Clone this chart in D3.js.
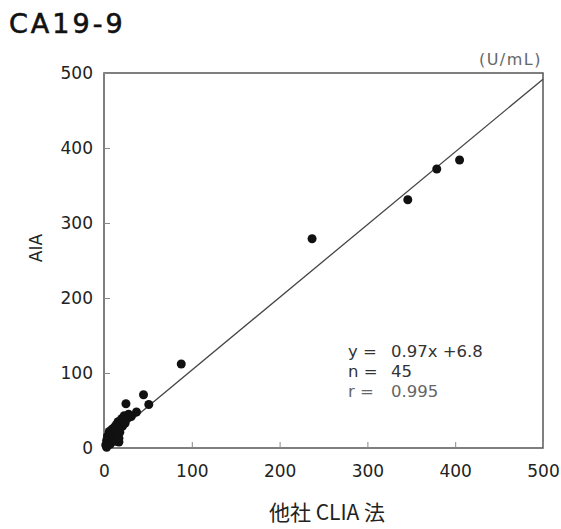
<!DOCTYPE html>
<html>
<head>
<meta charset="utf-8">
<script src="https://cdn.jsdelivr.net/npm/d3@7"></script>
<style>
  body { margin: 0; background: #fff; }
  svg text { font-family: "DejaVu Sans", sans-serif; }
</style>
</head>
<body>
<div id="chart"></div>
<script>
// comparison data: other-vendor CLIA (x) vs AIA (y), U/mL
const clia = [405, 379, 346, 237, 88,
  2, 3, 4, 5, 6, 6, 7, 8, 9, 9, 10, 11, 12, 13, 14, 14, 15, 16, 17, 18,
  18, 19, 20, 21, 22, 23, 24, 25, 26, 28, 31, 37, 45, 51, 17, 3];
const aia = [384, 372, 331, 279, 112,
  4, 10, 16, 7, 13, 22, 5, 18, 11, 25, 20, 14, 28, 9, 24, 31, 17, 35, 8, 27,
  21, 33, 39, 29, 36, 43, 33, 59, 40, 45, 42, 48, 71, 58, 13, 1];

const tickValues = [0, 100, 200, 300, 400, 500];
const slope = 0.97, intercept = 6.8;
const statLines = [
  { label: "y =", value: "0.97x +6.8", color: "#333" },
  { label: "n =", value: "45", color: "#333" },
  { label: "r =", value: "0.995", color: "#666" }
];

const W = 561, H = 529;
const svg = d3.select("#chart").append("svg")
  .attr("width", W).attr("height", H);

const x = d3.scaleLinear().domain([0, 500]).range([104, 543]);
const y = d3.scaleLinear().domain([0, 500]).range([448, 73]);

// title
svg.append("text")
  .attr("x", 9).attr("y", 33)
  .style("font-size", "27px")
  .style("letter-spacing", "3px")
  .attr("fill", "#111")
  .attr("stroke", "#111").attr("stroke-width", 0.6)
  .text("CA19-9");

// frame
svg.append("rect")
  .attr("x", x(0)).attr("y", y(500))
  .attr("width", x(500) - x(0)).attr("height", y(0) - y(500))
  .attr("fill", "none").attr("stroke", "#555").attr("stroke-width", 1.5);

const xAxis = svg.append("g")
  .attr("transform", `translate(0,${y(0)})`)
  .call(d3.axisBottom(x).tickValues(tickValues).tickSizeInner(-6).tickSizeOuter(0).tickPadding(17));
const yAxis = svg.append("g")
  .attr("transform", `translate(${x(0)},0)`)
  .call(d3.axisLeft(y).tickValues(tickValues).tickSizeInner(-6).tickSizeOuter(0).tickPadding(11));

[xAxis, yAxis].forEach(g => {
  g.select(".domain").remove();
  g.selectAll(".tick line").attr("stroke", "#888").attr("stroke-width", 1);
  g.selectAll(".tick text")
    .attr("fill", "#222")
    .style("font-size", "17px")
    .style("font-family", "'DejaVu Sans', sans-serif");
});

// axis titles
svg.append("text")
  .attr("x", 327).attr("y", 520)
  .attr("text-anchor", "middle")
  .attr("fill", "#222")
  .style("font-family", "'Noto Sans CJK JP', 'DejaVu Sans', sans-serif")
  .style("font-size", "21px")
  .text("他社 CLIA 法");

svg.append("text")
  .attr("transform", "translate(42,248) rotate(-90)")
  .attr("text-anchor", "middle")
  .attr("fill", "#222")
  .style("font-size", "17px")
  .text("AIA");

svg.append("text")
  .attr("x", 542).attr("y", 65)
  .attr("text-anchor", "end")
  .attr("fill", "#666")
  .style("font-size", "16px")
  .style("letter-spacing", "1.5px")
  .text("(U/mL)");

// regression line
svg.append("line")
  .attr("x1", x(0)).attr("y1", y(intercept))
  .attr("x2", x(500)).attr("y2", y(slope * 500 + intercept))
  .attr("stroke", "#444").attr("stroke-width", 1.3);

// points
svg.selectAll(".pt")
  .data(d3.zip(clia, aia))
  .join("circle")
  .attr("class", "pt")
  .attr("cx", d => x(d[0]))
  .attr("cy", d => y(d[1]))
  .attr("r", 4.5)
  .attr("fill", "#111");

// regression stats
const stats = svg.append("g").style("font-size", "16.5px");
statLines.forEach((s, i) => {
  const yy = 357 + i * 20;
  stats.append("text").attr("x", 348).attr("y", yy).attr("fill", s.color).text(s.label);
  stats.append("text").attr("x", 391).attr("y", yy).attr("fill", s.color).text(s.value);
});
</script>
</body>
</html>
